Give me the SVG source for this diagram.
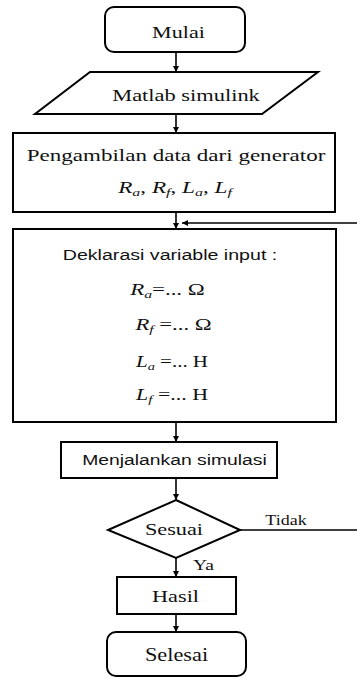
<svg xmlns="http://www.w3.org/2000/svg" width="357" height="679" viewBox="0 0 357 679">
<style>
.shape{fill:#fff;stroke:#000;stroke-width:2}
.con{fill:none;stroke:#000;stroke-width:1.6}
.rom{font-family:"Liberation Serif","Times New Roman",serif;fill:#111;text-anchor:middle}
.ssf{font-family:"Liberation Sans",Arial,sans-serif;fill:#111;text-anchor:middle}
.it{font-style:italic}
</style>
<defs>
<marker id="arr" viewBox="0 0 10 10" refX="10" refY="5" markerWidth="6" markerHeight="6" markerUnits="userSpaceOnUse" orient="auto">
<path d="M0,0 L10,5 L0,10 z" fill="#000"/>
</marker>
</defs>
<rect width="357" height="679" fill="#fff"/>
<g id="connectors">
<line class="con" x1="176" y1="52" x2="176" y2="72" marker-end="url(#arr)"/>
<line class="con" x1="176" y1="114" x2="176" y2="133" marker-end="url(#arr)"/>
<line class="con" x1="176" y1="212" x2="176" y2="229" marker-end="url(#arr)"/>
<line class="con" x1="357" y1="223" x2="182" y2="223" marker-end="url(#arr)"/>
<line class="con" x1="176" y1="422" x2="176" y2="442" marker-end="url(#arr)"/>
<line class="con" x1="176" y1="478" x2="176" y2="500" marker-end="url(#arr)"/>
<line class="con" x1="240" y1="530" x2="357" y2="530"/>
<line class="con" x1="176" y1="558" x2="176" y2="577" marker-end="url(#arr)"/>
<line class="con" x1="176" y1="614" x2="176" y2="632" marker-end="url(#arr)"/>
<text class="rom" font-size="15" transform="translate(286,525) scale(1.2,1)">Tidak</text>
<text class="rom" font-size="14" transform="translate(203.5,570) scale(1.4,1)">Ya</text>
</g>
<g id="mulai">
<rect class="shape" x="105" y="7" width="140" height="45" rx="9"/>
<text class="rom" font-size="17" transform="translate(178.5,38) scale(1.3,1)">Mulai</text>
</g>
<g id="matlab">
<polygon class="shape" points="90,72 318,72 262,114 35,114"/>
<text class="rom" font-size="17" transform="translate(186,101) scale(1.32,1)">Matlab simulink</text>
</g>
<g id="pengambilan">
<rect class="shape" x="13" y="133" width="322" height="79"/>
<text class="rom" font-size="16" transform="translate(176,161) scale(1.44,1)">Pengambilan data dari generator</text>
<text class="rom" font-size="16" transform="translate(175,193) scale(1.45,1)"><tspan class="it">R</tspan><tspan class="it" font-size="11" dy="3">a</tspan><tspan dy="-3">, </tspan><tspan class="it">R</tspan><tspan class="it" font-size="11" dy="3">f</tspan><tspan dy="-3">, </tspan><tspan class="it">L</tspan><tspan class="it" font-size="11" dy="3">a</tspan><tspan dy="-3">, </tspan><tspan class="it">L</tspan><tspan class="it" font-size="11" dy="3">f</tspan></text>
</g>
<g id="deklarasi">
<rect class="shape" x="13" y="229" width="323" height="193"/>
<text class="ssf" font-size="14" transform="translate(170,260) scale(1.4,1)">Deklarasi variable input :</text>
<text class="rom" font-size="16" transform="translate(167.5,295) scale(1.43,1)"><tspan class="it">R</tspan><tspan class="it" font-size="11" dy="3">a</tspan><tspan dy="-3">=... Ω</tspan></text>
<text class="rom" font-size="16" transform="translate(173.5,330) scale(1.42,1)"><tspan class="it">R</tspan><tspan class="it" font-size="11" dy="3">f</tspan><tspan dy="-3"> =... Ω</tspan></text>
<text class="rom" font-size="16" transform="translate(172,367) scale(1.31,1)"><tspan class="it">L</tspan><tspan class="it" font-size="11" dy="3">a</tspan><tspan dy="-3"> =... H</tspan></text>
<text class="rom" font-size="16" transform="translate(172,400) scale(1.37,1)"><tspan class="it">L</tspan><tspan class="it" font-size="11" dy="3">f</tspan><tspan dy="-3"> =... H</tspan></text>
</g>
<g id="menjalankan">
<rect class="shape" x="61" y="442" width="216" height="36"/>
<text class="ssf" font-size="14" transform="translate(174.5,465) scale(1.38,1)">Menjalankan simulasi</text>
</g>
<g id="sesuai">
<polygon class="shape" points="176,500 240,530 176,558 108,530"/>
<text class="rom" font-size="17" transform="translate(174,535) scale(1.31,1)">Sesuai</text>
</g>
<g id="hasil">
<rect class="shape" x="117" y="577" width="119" height="37"/>
<text class="rom" font-size="17" transform="translate(175.5,602) scale(1.31,1)">Hasil</text>
</g>
<g id="selesai">
<rect class="shape" x="107" y="632" width="139" height="44" rx="9"/>
<text class="rom" font-size="18" transform="translate(176.5,661) scale(1.24,1)">Selesai</text>
</g>
</svg>
